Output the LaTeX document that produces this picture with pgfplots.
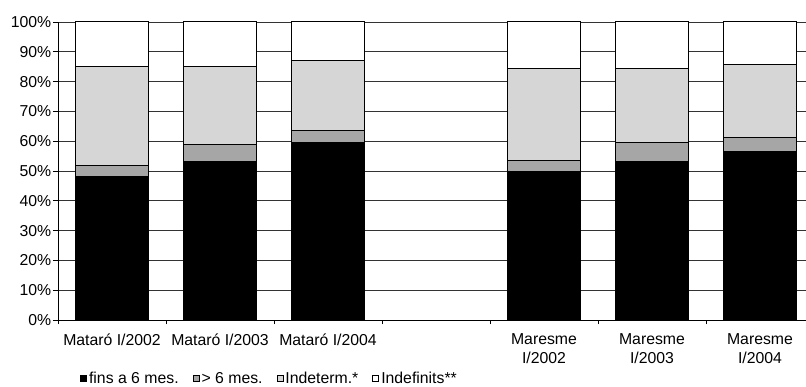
\documentclass[border=0pt]{standalone}
\usepackage{pgfplots}
\pgfplotsset{compat=1.18}
\usepackage{fontspec}
\setmainfont{Liberation Sans}
\definecolor{dg}{HTML}{A6A6A6}
\definecolor{lg}{HTML}{D6D6D6}
\pgfplotsset{sqlegend/.style={legend image code/.code={\draw[##1,line width=0.9bp] (0bp,-2.5bp) rectangle (6bp,3.5bp);}}}
\begin{document}
\fontsize{15.8bp}{19bp}\selectfont
\begin{tikzpicture}
\begin{axis}[
  at={(0,0)}, anchor=south west,
  width=748bp, height=298bp, scale only axis,
  ybar stacked, bar width=0.685,
  xmin=-0.5, xmax=6.426, ymin=0, ymax=100,
  axis lines=left, axis line style={-, black, line width=0.9bp},
  ytick={0,10,...,100},
  yticklabels={0\%,10\%,20\%,30\%,40\%,50\%,60\%,70\%,80\%,90\%,100\%},
  ymajorgrids, grid style={black!80, line width=0.8bp},
  xtick={0,1,2,4,5,6},
  xticklabels={Mataró I/2002, Mataró I/2003, Mataró I/2004, {Maresme\\I/2002}, {Maresme\\I/2003}, {Maresme\\I/2004}},
  major x tick style={draw=none},
  minor xtick={-0.5,0.5,...,5.5},
  tick align=outside, major tick length=5bp, minor tick length=4bp,
  tick style={black, line width=0.8bp},
  x tick label style={align=center, yshift=-3bp},
  y tick label style={inner sep=1.5bp},
  legend columns=4,
  legend style={draw=none, at={(0.0294,-0.198)}, anchor=west, inner sep=0pt,
    /tikz/every even column/.append style={column sep=12bp},
    nodes={inner sep=2bp}},
]
\addplot[fill=black, draw=black, line width=1bp, sqlegend] coordinates {(0,48.0) (1,53.1) (2,59.4) (4,49.8) (5,53.1) (6,56.5)};
\addplot[fill=dg, draw=black, line width=1bp, sqlegend] coordinates {(0,3.7) (1,5.9) (2,4.3) (4,3.8) (5,6.4) (6,4.7)};
\addplot[fill=lg, draw=black, line width=1bp, sqlegend] coordinates {(0,33.3) (1,26.1) (2,23.3) (4,30.9) (5,25.0) (6,24.7)};
\addplot[fill=white, draw=black, line width=1bp, sqlegend] coordinates {(0,15.0) (1,14.9) (2,13.0) (4,15.5) (5,15.5) (6,14.1)};
\legend{fins a 6 mes., > 6 mes., Indeterm.*, Indefinits**}
\end{axis}
\pgfresetboundingbox
\path (-58bp,-67bp) rectangle (748bp,320bp);
\end{tikzpicture}
\end{document}
